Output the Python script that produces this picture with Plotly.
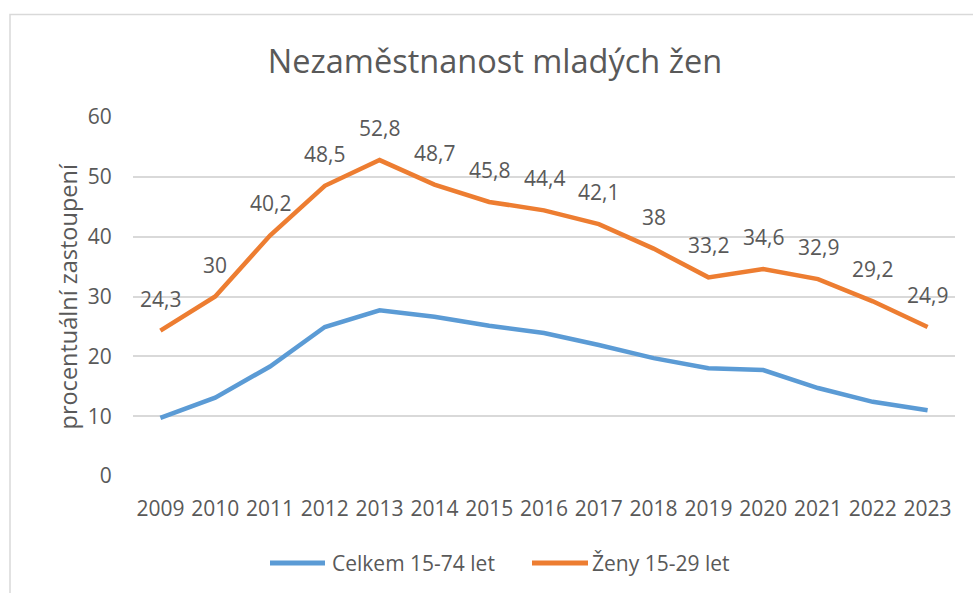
import plotly.graph_objects as go

years = [str(y) for y in range(2009, 2024)]
celkem = [9.7, 13.1, 18.3, 24.9, 27.7, 26.6, 25.1, 23.9, 21.9, 19.7, 18.0, 17.7, 14.7, 12.4, 11.0]
zeny = [24.3, 30, 40.2, 48.5, 52.8, 48.7, 45.8, 44.4, 42.1, 38, 33.2, 34.6, 32.9, 29.2, 24.9]
series_names = ["Celkem 15-74 let", "Ženy 15-29 let"]
colors = ["#5B9BD5", "#ED7D31"]
y_ticks = [0, 10, 20, 30, 40, 50, 60]

FONT = "Open Sans"
TXT = "#595959"
W, H = 973, 593
L, R, T, B = 133, 18, 117, 117
PW, PH = W - L - R, H - T - B


def px_x(px):
    return (px - L) / PW


def px_y(py):
    return (H - B - py) / PH


fig = go.Figure()
for name, vals, col in zip(series_names, [celkem, zeny], colors):
    fig.add_trace(go.Scatter(
        x=years, y=vals, mode="lines", name=name,
        line=dict(color=col, width=4.5), showlegend=False,
    ))

annotations = []
for i, v in enumerate(zeny):
    annotations.append(dict(
        x=i, y=v, xref="x", yref="y", text=f"{v:g}".replace(".", ","),
        showarrow=False, yshift=32, font=dict(family=FONT, size=21, color=TXT),
    ))

# y-axis title
annotations.append(dict(
    x=px_x(67), y=0.5, xref="paper", yref="paper", text="procentuální zastoupení",
    textangle=-90, showarrow=False, xanchor="center", yanchor="middle",
    font=dict(family=FONT, size=23.5, color=TXT),
))

shapes = [
    dict(type="rect", xref="paper", yref="paper",
         x0=px_x(10), x1=px_x(1100), y0=px_y(700), y1=px_y(14.5),
         line=dict(color="#D9D9D9", width=1.5), fillcolor="rgba(0,0,0,0)", layer="below"),
]

# custom legend
leg_y = px_y(563)
leg = [(270, 325, 330), (532, 588, 590)]
for (x0, x1, xt), name, col in zip(leg, series_names, colors):
    shapes.append(dict(type="line", xref="paper", yref="paper",
                       x0=px_x(x0), x1=px_x(x1), y0=leg_y, y1=leg_y,
                       line=dict(color=col, width=5)))
    annotations.append(dict(x=px_x(xt), y=leg_y, xref="paper", yref="paper", text=name,
                            showarrow=False, xanchor="left", yanchor="middle",
                            font=dict(family=FONT, size=21, color=TXT)))

fig.update_layout(
    width=W, height=H,
    margin=dict(l=L, r=R, t=T, b=B),
    paper_bgcolor="white", plot_bgcolor="white",
    title=dict(text="Nezaměstnanost mladých žen", x=495 / W, xref="container",
               y=1 - 62 / H, yref="container", xanchor="center", yanchor="middle",
               font=dict(family=FONT, size=32.5, color=TXT)),
    xaxis=dict(type="category", range=[-0.5, 14.5], showgrid=False, showline=False,
               zeroline=False, ticks="outside", ticklen=14, tickcolor="rgba(0,0,0,0)",
               tickfont=dict(family=FONT, size=21, color=TXT)),
    yaxis=dict(range=[0, 60], tickvals=y_ticks, showgrid=True, gridcolor="#D9D9D9",
               gridwidth=1.5, zeroline=False, showline=False, ticks="outside",
               ticklen=16, tickcolor="rgba(0,0,0,0)",
               tickfont=dict(family=FONT, size=21, color=TXT)),
    annotations=annotations,
    shapes=shapes,
    showlegend=False,
)

fig.write_html("out.html", config={"displayModeBar": False},
               post_script="document.body.style.margin='0';")
